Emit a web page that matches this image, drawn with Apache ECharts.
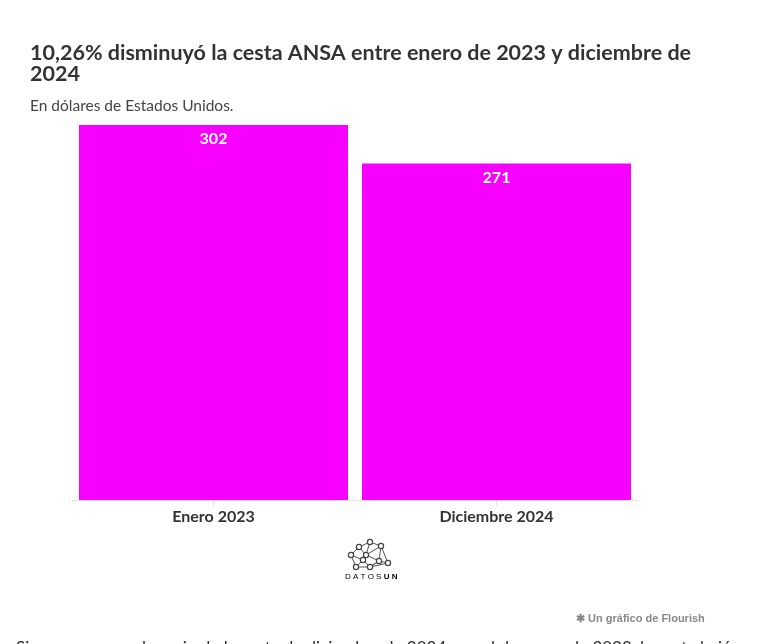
<!DOCTYPE html>
<html>
<head>
<meta charset="utf-8">
<script src="https://cdn.jsdelivr.net/npm/echarts@6/dist/echarts.min.js"></script>
<style>
  html, body { margin: 0; padding: 0; background: #fff; }
  #chart { width: 776px; height: 644px; }
</style>
</head>
<body>
<div id="chart"></div>
<script>
// datos del gráfico
const categories = ['Enero 2023', 'Diciembre 2024']
const values = [302, 271]

const titleText = '10,26% disminuyó la cesta ANSA entre enero de 2023 y diciembre de\n2024'
const subtitleText = 'En dólares de Estados Unidos.'

// logo DATOSUN (decorativo)
const nodes = [[351, 555], [359, 547], [370, 542], [381, 546], [366, 555], [379, 561], [388, 563], [356, 567], [370, 567], [363, 560]]
const links = [[0, 1], [1, 2], [2, 3], [1, 4], [2, 4], [3, 4], [3, 5], [3, 6], [4, 5], [5, 6], [0, 9], [4, 9], [9, 7], [9, 8], [7, 8], [8, 5], [0, 7], [5, 8], [6, 8]]

const logo = []
links.forEach(([a, b]) => {
  logo.push({
    type: 'line',
    shape: { x1: nodes[a][0], y1: nodes[a][1], x2: nodes[b][0], y2: nodes[b][1] },
    style: { stroke: '#555', lineWidth: 1 }
  })
})
nodes.forEach(([x, y]) => {
  logo.push({
    type: 'circle',
    shape: { cx: x, cy: y, r: 2.6 },
    style: { fill: '#fff', stroke: '#444', lineWidth: 1.2 }
  })
})

const chart = echarts.init(document.getElementById('chart'))

chart.setOption({
  animation: false,
  textStyle: { fontFamily: 'Lato, sans-serif' },
  title: {
    text: titleText,
    subtext: subtitleText,
    left: 25,
    top: 38,
    itemGap: 12,
    textStyle: { fontSize: 21.5, fontWeight: 'bold', color: '#333', lineHeight: 21, fontFamily: 'Lato' },
    subtextStyle: { fontSize: 15.5, color: '#444', fontFamily: 'Lato' }
  },
  grid: { left: 72, right: 138, top: 125, bottom: 144 },
  xAxis: {
    type: 'category',
    data: categories,
    axisLine: { lineStyle: { color: '#e3e3e3' } },
    axisTick: { show: true, alignWithLabel: true, length: 6, lineStyle: { color: '#e3e3e3' } },
    axisLabel: { fontSize: 16, fontWeight: 'bold', color: '#333', margin: 9 }
  },
  yAxis: {
    type: 'value',
    min: 0,
    max: 302,
    show: false
  },
  series: [{
    type: 'bar',
    data: values,
    barWidth: 269,
    itemStyle: { color: '#f700ff' },
    label: {
      show: true,
      position: 'insideTop',
      distance: 6,
      color: '#fff',
      fontSize: 16,
      fontWeight: 'bold'
    }
  }],
  graphic: [
    ...logo,
    {
      type: 'text',
      left: 345, top: 573,
      style: {
        text: '{a|D A T O S }{b|U N}',
        rich: {
          a: { fontSize: 8, color: '#666', fontFamily: 'Liberation Sans' },
          b: { fontSize: 8, color: '#333', fontWeight: 'bold', fontFamily: 'Liberation Sans' }
        }
      }
    },
    {
      type: 'text',
      left: 576, top: 613,
      style: {
        text: '✱ Un gráfico de Flourish',
        fontSize: 11,
        fontWeight: 'bold',
        fill: '#888',
        fontFamily: 'Liberation Sans'
      }
    },
    {
      type: 'text',
      left: 16, top: 640,
      style: {
        text: 'Si comparamos el precio de la cesta de diciembre de 2024 con el de enero de 2023, la cesta bajó',
        fontSize: 17,
        fill: '#333',
        fontFamily: 'Lato'
      }
    }
  ]
})
</script>
</body>
</html>
